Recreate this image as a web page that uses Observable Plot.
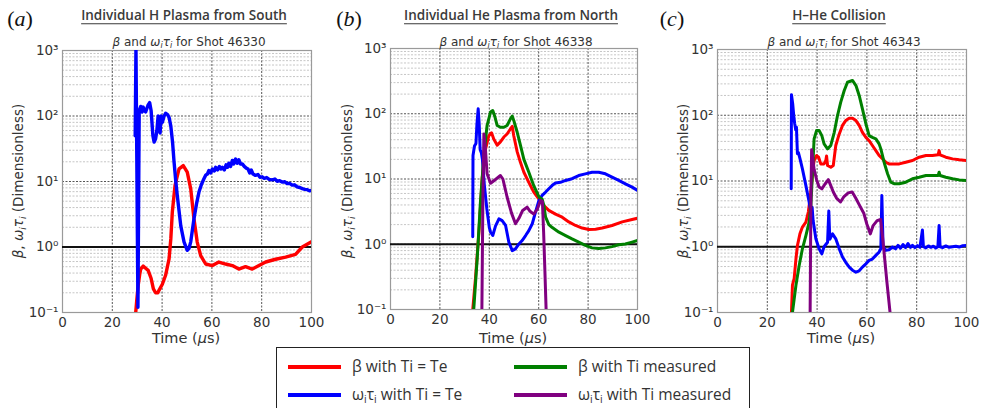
<!DOCTYPE html>
<html><head><meta charset="utf-8">
<script src="https://cdn.jsdelivr.net/npm/d3@7"></script>
<script src="https://cdn.jsdelivr.net/npm/@observablehq/plot@0.6"></script>
<style>
body{margin:0;background:#fff}
#root{position:relative;width:984px;height:408px;overflow:hidden;background:#fff;font-family:"DejaVu Sans",sans-serif;color:#333}
.abs{position:absolute;white-space:nowrap;transform:translate(-50%,-50%);line-height:1}
.panel{position:absolute;top:0;overflow:visible}
sub{font-size:0.68em;vertical-align:-0.28em;line-height:0}
.lab{font-family:"Liberation Serif",serif;font-size:22px;color:#111}
.ttl{font-family:"Open Sans",sans-serif;font-size:13.5px;font-weight:600;text-decoration:underline;text-underline-offset:3px;color:#3a3a3a}
.sub{font-size:12px;color:#333}
.ylab{font-size:13.5px;color:#333}
.xlab{font-size:14.5px;color:#333}
#legend{position:absolute;left:276px;top:347px;width:472px;height:70px;border:1.5px solid #222;background:#fff;font-family:"Open Sans",sans-serif;font-size:15.5px;color:#333}
.sw{position:absolute;height:4px;width:53px}
.lt{position:absolute;white-space:nowrap;transform:translateY(-50%);line-height:1}
</style></head><body><div id="root"></div><script>
// ---------- data: [time (µs), value] ----------
// Panel (a) Individual H Plasma from South, shot 46330
const aBetaTiTe = [[29.3,0.09],[29.8,0.15],[30.4,0.26],[31.0,0.38],[31.4,0.46],[32.4,0.51],[33.5,0.47],[34.4,0.44],[35.6,0.33],[36.5,0.23],[37.4,0.2],[38.3,0.2],[38.8,0.22],[40.1,0.27],[41.4,0.37],[42.8,0.66],[43.5,1.33],[44.1,3.4],[45.2,8.7],[46.8,15.6],[48.5,17.5],[50.1,13.9],[51.5,7.7],[52.8,2.7],[54.1,1.19],[55.5,0.74],[57.5,0.55],[60.2,0.52],[62.8,0.59],[65.5,0.55],[68.2,0.52],[70.8,0.46],[73.5,0.5],[76.2,0.46],[78.9,0.52],[81.6,0.59],[85.6,0.65],[89.6,0.7],[93.6,0.77],[96.3,1.0],[100,1.2]];
const aWtTiTe = [[29.2,50],[29.5,1100],[30.3,0.12],[30.8,120],[31.4,140],[32.0,115],[32.4,137],[33.0,120],[33.4,115],[34.3,145],[35.0,160],[35.6,120],[36.3,50],[36.8,40],[37.4,45],[37.9,60],[38.4,100],[38.8,70],[39.2,55],[39.6,100],[40.1,80],[40.8,100],[41.4,110],[42.2,105],[42.8,95],[43.5,70],[44.2,40],[44.8,20],[45.5,10],[46.1,6.1],[47.5,2.1],[48.8,1.2],[50.1,0.89],[50.8,0.95],[51.5,1.2],[52.8,2.7],[53.8,4.5],[54.8,6.9],[55.8,9],[56.8,11],[57.5,12.5],[58.2,13],[58.8,14.7],[59.5,13.5],[60.2,15.5],[61.0,14.5],[61.5,16.5],[62.3,15],[63,17],[63.6,15.5],[64.2,16.5],[65,15],[65.7,18],[66.3,16.5],[66.8,19],[67.5,17],[68.2,21],[68.8,18.5],[69.5,22],[70.2,19],[70.8,21.5],[71.5,18.5],[72.2,18.6],[73,17],[73.8,16],[74.5,15.5],[75.2,13.5],[75.8,15],[76.5,13],[77.5,12.4],[78.5,12.8],[79.3,11.6],[80.2,11.8],[81,11.2],[82,11.5],[83,10.8],[84.2,10.6],[85.3,10.9],[86.2,10.1],[87.2,10.3],[88.2,9.8],[89.3,9.9],[90.2,9.3],[91.2,9.4],[92.2,8.8],[93.2,8.9],[94.2,8.3],[95.3,8.1],[96.3,7.8],[97.3,7.6],[98.3,7.5],[99.2,7.2],[100,7.3]];

// Panel (b) Individual He Plasma from North, shot 46338
const bBetaTiTe = [[33.3,0.1],[34.4,0.3],[35.8,1.53],[37.1,10.1],[38.5,29],[39.8,46],[40.9,51],[41.8,41],[43.2,33],[44.5,37],[45.9,44],[47.2,49],[48.6,59],[49.3,64],[49.9,46],[51.3,26],[52.6,18],[54.0,12.7],[56.0,8.9],[58.0,6.3],[60.1,4.9],[62.1,3.9],[64.1,3.3],[66.8,2.9],[69.5,2.6],[72.2,2.2],[74.9,1.94],[77.6,1.77],[80.3,1.68],[83.0,1.7],[85.7,1.77],[89.7,1.94],[93.8,2.2],[97.8,2.4],[100,2.5]];
const bWtTiTe = [[33.3,1.3],[33.4,23],[34.0,32],[34.6,35],[35.0,70],[35.5,119],[35.9,70],[36.3,28],[36.8,25],[37.2,20],[38.0,8],[39.0,3.5],[40.0,1.8],[40.5,1.54],[41.4,1.36],[42.5,1.9],[43.9,2.45],[45.2,2.3],[46.6,1.94],[47.9,1.08],[49.3,0.80],[50.6,0.85],[52.0,1.01],[53.3,1.14],[54.7,1.36],[56.0,1.62],[57.4,2.06],[58.7,3.1],[60.1,4.7],[61.4,5.6],[62.8,6.3],[64.1,7.1],[65.5,8.0],[66.8,8.7],[68.8,8.9],[70.9,9.5],[73.5,10.1],[76.2,11.3],[78.9,12.0],[81.6,12.7],[84.3,12.7],[87,12.0],[89.7,10.7],[92.4,9.5],[95.1,8.4],[97.8,7.5],[100,6.7]];
const bBetaTiMeas = [[33.7,0.1],[35.1,0.6],[36.4,4.4],[37.8,23],[39.1,66],[40.5,106],[41.4,112],[42.3,89],[43.2,66],[44.5,62],[45.9,62],[47.2,66],[48.6,84],[49.3,92],[49.9,79],[51.3,52],[52.6,33],[54.0,20],[56.0,12.7],[58.0,7.9],[60.1,5.3],[61.4,4.9],[62.1,3.9],[62.8,2.6],[64.1,2.0],[65.5,1.8],[68.2,1.53],[70.9,1.36],[73.5,1.21],[76.2,1.08],[78.9,0.96],[81.6,0.88],[84.3,0.86],[87,0.88],[89.7,0.92],[92.4,0.98],[95.1,1.01],[97.8,1.08],[100,1.14]];
const bWtTiMeas = [[37.0,0.1],[37.4,5],[37.8,49],[38.4,30],[39.1,12],[40.5,8.6],[42,9.5],[44.5,11.3],[45.5,10],[47.2,5.3],[49,3.0],[50.6,2.06],[52,2.5],[53.5,3.3],[55.3,3.7],[56.5,3.2],[58,2.9],[59.5,3.5],[60.7,4.7],[61.5,4.5],[62.0,1.5],[62.5,0.4],[63.0,0.1]];

// Panel (c) H-He Collision, shot 46343
const cBetaTiTe = [[29.7,0.1],[30.1,0.26],[30.8,0.33],[31.5,0.65],[32.1,1.04],[33.1,1.57],[34.1,1.99],[35.5,2.37],[36.5,3.4],[37.5,6.8],[38.2,13.6],[38.8,20.5],[39.8,24.4],[40.6,23],[41.5,18.2],[42.8,18.2],[43.5,20.5],[43.8,24],[44.2,17.2],[45.5,16.2],[46.5,17.2],[47.5,34.7],[48.9,52],[50.2,70],[51.5,83],[52.9,90],[54.2,90],[55.6,83],[56.9,70],[58.2,55],[59.6,46],[60.9,41],[62.2,34.7],[63.6,29],[64.9,24.4],[66.3,21.7],[67.6,19.3],[68.9,18.2],[70.3,18.2],[73,18.2],[75.6,19.3],[78.3,20.5],[81,23],[83.7,24.4],[86.3,24.4],[88.6,25],[89,29],[89.4,25],[91.7,23],[94.4,21.7],[97.1,21],[100,20.5]];
const cWtTiTe = [[29.6,7.6],[29.7,205],[30.2,150],[30.6,100],[31.0,75],[31.4,60],[31.7,66],[32.1,26],[32.5,27],[33.1,22],[34.1,15.3],[35.5,8.5],[36.8,4.8],[37.6,3.2],[38.0,4.0],[38.4,2.5],[39.5,1.32],[40.8,0.93],[41.9,0.78],[42.8,1.0],[44.2,1.17],[44.7,3.5],[45.1,1.3],[46.2,1.57],[47.5,1.32],[48.9,0.93],[50.2,0.70],[51.5,0.58],[52.9,0.49],[54.2,0.44],[55.6,0.41],[56.9,0.43],[58.2,0.49],[59.6,0.55],[60.9,0.62],[62.2,0.65],[63.6,0.74],[64.9,0.83],[65.6,0.93],[66.0,6.0],[66.5,1.0],[67.6,0.88],[68.9,0.9],[70.3,0.99],[71.5,0.93],[72.5,1.05],[73.5,0.95],[74.5,1.08],[75.5,0.97],[76.5,1.12],[77.5,0.98],[78.3,1.05],[79.3,0.97],[80.3,1.04],[81.3,0.98],[82.3,1.8],[82.7,1.0],[83.7,0.96],[84.7,1.03],[85.7,0.98],[86.7,1.02],[87.7,0.96],[88.5,1.0],[89.0,2.1],[89.4,1.0],[90.4,0.97],[91.7,1.03],[93,0.98],[94.4,1.0],[95.7,1.02],[97.1,0.99],[98.5,1.04],[100,1.05]];
const cBetaTiMeas = [[30.1,0.1],[31.5,0.26],[32.8,0.52],[34.1,0.93],[35.5,1.48],[36.8,2.37],[37.5,4.2],[38.2,15.3],[38.8,43.8],[39.8,58.6],[40.8,58.6],[41.9,49],[42.8,36.7],[44.2,30.8],[45.5,34.7],[46.9,55],[48.2,99],[49.5,158],[50.9,238],[52.2,318],[54.2,338],[55.6,283],[56.9,200],[58.2,125],[59.6,74],[60.9,49],[62.2,46],[63.6,43.8],[64.9,36.7],[65.6,30.8],[66.9,19.3],[68.3,12.9],[69.6,9.6],[70.9,9.1],[73,9.1],[75.6,9.6],[78.3,10.8],[81,11.4],[83.7,12.1],[86.3,12.1],[88.6,12.1],[89,13.6],[89.4,12.1],[91.7,11.4],[94.4,10.8],[97.1,10.4],[100,10.2]];
const cWtTiMeas = [[37.2,0.1],[37.5,5],[37.8,30],[38.8,15],[39.8,10.5],[40.8,8.1],[41.9,7.6],[43.2,9],[44.5,10.5],[45.5,8.5],[46.5,6.8],[47.8,5.5],[49.4,4.8],[50.8,5.8],[52.5,6.6],[54.1,6.8],[55.5,5.5],[57,4.3],[58.8,3.2],[60,2.2],[61.4,1.57],[62.5,2.1],[64.1,2.5],[65.5,2.6],[66.2,1.5],[66.8,0.9],[68,0.3],[69.3,0.1]];

// ---------- categories, labels, ticks ----------
const seriesNames = ["β with Ti = Te", "ωiτi with Ti = Te", "β with Ti measured", "ωiτi with Ti measured"];
const seriesColors = ["#ff0000", "#0000ff", "#008000", "#800080"];
const panelLetters = ["a", "b", "c"];
const panelTitles = ["Individual H Plasma from South", "Individual He Plasma from North", "H–He Collision"];
const shotNumbers = ["46330", "46338", "46343"];
const xTicks = [0, 20, 40, 60, 80, 100];
const yTickValues = [0.1, 1, 10, 100, 1000];
const yTickLabels = ["10⁻¹", "10⁰", "10¹", "10²", "10³"];
const yMinorTicks = [];
for (const d of [0.1, 1, 10, 100]) for (let k = 2; k <= 9; k++) yMinorTicks.push(+(d * k).toPrecision(3));

const panelSeries = [
  [aBetaTiTe, aWtTiTe, null, null],
  [bBetaTiTe, bWtTiTe, bBetaTiMeas, bWtTiMeas],
  [cBetaTiTe, cWtTiTe, cBetaTiMeas, cWtTiMeas]
];

// ---------- layout ----------
const layout = [
  {left: 0,   width: 320, ml: 62, mr: 9,  mt: 50, mb: 38, cx: 186, labX: 20,  ylabX: 19},
  {left: 320, width: 330, ml: 70, mr: 13, mt: 48, mb: 41, cx: 513, labX: 349, ylabX: 348},
  {left: 650, width: 334, ml: 67, mr: 18, mt: 49, mb: 38, cx: 841, labX: 672, ylabX: 684}
];
const H = 350;
const root = document.getElementById("root");

function addText(html, cls, x, y, extra) {
  const d = document.createElement("div");
  d.className = "abs " + cls;
  d.innerHTML = html;
  d.style.left = x + "px";
  d.style.top = y + "px";
  if (extra) d.style.transform = extra;
  root.appendChild(d);
  return d;
}

layout.forEach((L, p) => {
  const rows = [];
  panelSeries[p].forEach((arr, s) => {
    if (!arr) return;
    arr.forEach(([t, v]) => rows.push({t, v, s: seriesNames[s]}));
  });
  const chart = Plot.plot({
    width: L.width, height: H,
    marginLeft: L.ml, marginRight: L.mr, marginTop: L.mt, marginBottom: L.mb,
    style: {fontFamily: "DejaVu Sans, sans-serif", fontSize: "13px", color: "#333", background: "transparent", overflow: "visible"},
    x: {domain: [0, 100], label: null},
    y: {type: "log", domain: [0.1, 1000], label: null},
    color: {domain: seriesNames, range: seriesColors},
    marks: [
      Plot.ruleY(yMinorTicks, {stroke: "#b8b8b8", strokeWidth: 0.8, strokeDasharray: "2,1.5"}),
      Plot.ruleY(yTickValues, {stroke: "#555", strokeWidth: 1, strokeDasharray: "2,1.5"}),
      Plot.ruleX(xTicks.slice(1, -1), {stroke: "#555", strokeWidth: 1, strokeDasharray: "2,1.5"}),
      Plot.frame({stroke: "#9a9a9a", strokeWidth: 1.2}),
      Plot.ruleY([1], {stroke: "#111", strokeWidth: 2.2}),
      Plot.line(rows, {x: "t", y: "v", z: "s", stroke: "s", strokeWidth: p === 0 ? 3.4 : 3, clip: true, curve: "linear"}),
      Plot.axisX({ticks: xTicks, tickSize: 0, tickPadding: 5, fontSize: 13.5, label: null}),
      Plot.axisY({ticks: yTickValues, tickFormat: (d) => yTickLabels[yTickValues.indexOf(d)], tickSize: 0, tickPadding: 4, fontSize: 13.5, label: null})
    ]
  });
  chart.classList.add("panel");
  chart.style.left = L.left + "px";
  chart.style.top = "0px";
  chart.style.position = "absolute";
  chart.style.overflow = "visible";
  root.appendChild(chart);

  addText(`(<i>${panelLetters[p]}</i>)`, "lab", L.labX, 19);
  addText(panelTitles[p], "ttl", L.cx - 2, 16);
  addText(`<i>β</i> and <i>ω<sub>i</sub>τ<sub>i</sub></i> for Shot ${shotNumbers[p]}`, "sub", L.cx + 3, 42);
  addText(`<i>β</i>, <i>ω<sub>i</sub>τ<sub>i</sub></i> (Dimensionless)`, "ylab", L.ylabX, 181, "translate(-50%,-50%) rotate(-90deg)");
  addText(`Time (<i>μ</i>s)`, "xlab", L.cx, 338);
});

// ---------- legend ----------
const legend = document.createElement("div");
legend.id = "legend";
root.appendChild(legend);
const legPos = [[11, 19], [11, 47], [237, 19], [237, 47]];
seriesNames.forEach((name, i) => {
  const [lx, ly] = legPos[i];
  const sw = document.createElement("div");
  sw.className = "sw";
  sw.style.left = lx + "px";
  sw.style.top = (ly - 2) + "px";
  sw.style.background = seriesColors[i];
  legend.appendChild(sw);
  const t = document.createElement("div");
  t.className = "lt";
  t.style.left = (lx + 64) + "px";
  t.style.top = ly + "px";
  t.innerHTML = name.replace("ωiτi", "ω<sub>i</sub>τ<sub>i</sub>");
  legend.appendChild(t);
});
</script></body></html>
